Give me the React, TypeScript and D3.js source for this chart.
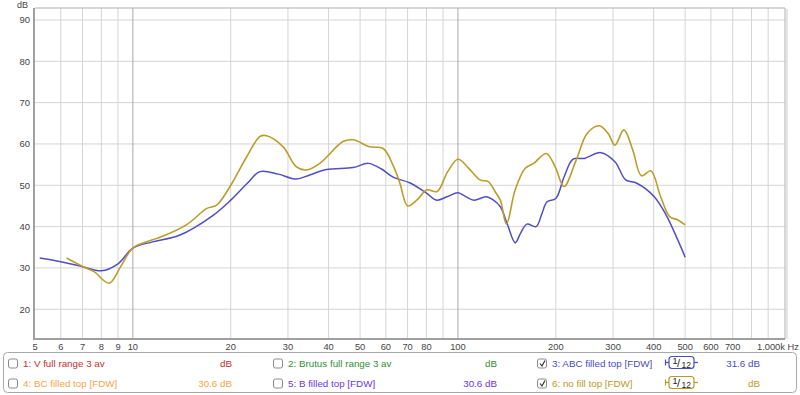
import React from "react";
import * as d3 from "d3";

const blueFreq = [5.17, 6, 7, 8.0, 9, 10, 11.5, 13.9, 17.7, 20, 22.5, 24.6, 28, 31.8, 35, 39.4, 47.6, 53, 58, 63.4, 71, 80, 86, 93, 100, 106, 112, 122, 128, 135, 142, 150, 156, 163, 174, 181, 188, 200, 212, 226, 245, 275, 304, 328, 355, 401, 437, 470, 500];
const blueDb = [32.4, 31.5, 30.3, 29.3, 31.0, 34.8, 36.3, 37.9, 42.8, 46.4, 50.5, 53.3, 52.7, 51.5, 52.5, 53.8, 54.3, 55.3, 54.0, 51.9, 50.6, 48.1, 46.4, 47.3, 48.2, 47.2, 46.4, 47.2, 46.5, 44.8, 40.5, 36.1, 38.5, 40.6, 40.0, 43.0, 46.0, 46.8, 52.0, 56.3, 56.5, 57.9, 55.7, 51.3, 50.5, 47.3, 42.8, 37.5, 32.6];

const goldFreq = [6.25, 7.03, 7.6, 8.45, 9.2, 10, 11.5, 12.4, 14.6, 16.9, 18.1, 19.9, 22.4, 24.6, 25.8, 29.0, 31.8, 34.2, 37.6, 44.3, 47.6, 53.6, 58.9, 63.4, 66.3, 70, 75, 80.2, 86.3, 93, 100, 108, 117, 124, 130, 135, 141, 150, 161, 171, 187, 199, 212, 231, 250, 272, 290, 304, 324, 345, 367, 392, 420, 448, 475, 500];
const goldDb = [32.4, 30.3, 29.1, 26.3, 30.5, 34.8, 36.8, 37.7, 40.4, 44.4, 45.2, 49.7, 56.9, 61.8, 62.0, 59.3, 54.5, 53.7, 55.3, 60.6, 61.0, 59.3, 58.9, 54.5, 50.5, 45.0, 46.5, 48.9, 48.5, 53.3, 56.3, 54.1, 51.3, 50.9, 48.5, 46.4, 40.6, 48.9, 54.1, 55.3, 57.7, 54.5, 49.7, 56.1, 62.6, 64.4, 62.5, 59.7, 63.4, 58.5, 52.3, 53.5, 47.3, 42.4, 41.6, 40.4];

const yTicks = [20, 30, 40, 50, 60, 70, 80, 90];
const xGrid = [6, 7, 8, 9, 10, 20, 30, 40, 50, 60, 70, 80, 90, 100, 200, 300, 400, 500, 600, 700, 800, 900];
const xMajor = [10, 100];
const xLabels = [5, 6, 7, 8, 9, 10, 20, 30, 40, 50, 60, 70, 80, 100, 200, 300, 400, 500, 600, 700];

const legendRow1 = [
  { name: "1: V full range 3 av", value: "dB", color: "#c0302c", checked: false },
  { name: "2: Brutus full range 3 av", value: "dB", color: "#2f8f2f", checked: false },
  { name: "3: ABC filled top [FDW]", value: "31.6 dB", color: "#4a4ac8", checked: true },
];
const legendRow2 = [
  { name: "4: BC filled top [FDW]", value: "30.6 dB", color: "#f5a547", checked: false },
  { name: "5: B filled top [FDW]", value: "30.6 dB", color: "#6a35ec", checked: false },
  { name: "6: no fill top [FDW]", value: "dB", color: "#b89a22", checked: true },
];

const W = 800, H = 395;
const L = 35, R = 785, T = 8, B = 339;
const FONT = "'Liberation Sans', Arial, sans-serif";

export default function App() {
  const x = d3.scaleLog().domain([5, 1014]).range([L, R]);
  const y = d3.scaleLinear().domain([12.8, 92.9]).range([B, T]);
  const line = d3.line<[number, number]>()
    .x((d) => x(d[0]))
    .y((d) => y(d[1]))
    .curve(d3.curveCatmullRom.alpha(0.5));
  const blue = line(blueFreq.map((f, i) => [f, blueDb[i]] as [number, number])) || "";
  const gold = line(goldFreq.map((f, i) => [f, goldDb[i]] as [number, number])) || "";

  const colX = [8, 273, 537];
  const valRight = [232, 497, 760];
  const rowsY = [363.5, 383.5];

  const renderRow = (row: typeof legendRow1, ri: number) =>
    row.map((item, ci) => {
      const cx = colX[ci];
      const cy = rowsY[ri];
      return (
        <g key={`${ri}-${ci}`}>
          <rect x={cx + 0.5} y={cy - 4.5} width={9} height={9} rx={2} fill="#fff" stroke="#8a8a8a" strokeWidth={1} />
          {item.checked && (
            <path d={`M${cx + 3},${cy} L${cx + 5},${cy + 2.5} L${cx + 8},${cy - 3}`} fill="none" stroke="#333" strokeWidth={1.2} />
          )}
          <text x={cx + 15} y={cy + 3.3} fontSize={9.8} fill={item.color} fontFamily={FONT}>{item.name}</text>
          {ci === 2 && (
            <g>
              <line x1={665} x2={669} y1={cy - 1} y2={cy - 1} stroke={item.color} strokeWidth={1.2} />
              <line x1={665.5} x2={665.5} y1={cy - 4} y2={cy + 2} stroke={item.color} strokeWidth={1.2} />
              <rect x={669} y={cy - 7} width={25} height={12} rx={3} fill="#fff" stroke={item.color} strokeWidth={1.2} />
              <line x1={694} x2={698} y1={cy - 1} y2={cy - 1} stroke={item.color} strokeWidth={1.2} />
              <text x={672.5} y={cy + 0.5} fontSize={9} fill="#222" fontFamily={FONT}>1</text>
              <text x={677} y={cy + 3} fontSize={11} fill="#222" fontFamily={FONT}>/</text>
              <text x={681.5} y={cy + 4} fontSize={8.5} fill="#222" fontFamily={FONT}>12</text>
            </g>
          )}
          <text x={valRight[ci]} y={cy + 3.3} fontSize={9.8} fill={item.color} textAnchor="end" fontFamily={FONT}>{item.value}</text>
        </g>
      );
    });

  return (
    <svg width={W} height={H} style={{ position: "absolute", left: 0, top: 0, background: "#fff" }}>
      <rect x={0} y={0} width={W} height={H} fill="#fff" />
      {yTicks.map((t) => (
        <line key={`h${t}`} x1={L} x2={R} y1={y(t)} y2={y(t)} stroke="#d4d4d4" strokeWidth={1} />
      ))}
      {xGrid.map((f) => (
        <line key={`v${f}`} x1={x(f)} x2={x(f)} y1={T} y2={B} stroke={xMajor.includes(f) ? "#a8a8a8" : "#d4d4d4"} strokeWidth={1} />
      ))}
      <line x1={L} x2={R} y1={T} y2={T} stroke="#b0b0b0" strokeWidth={1} />
      <line x1={R} x2={R} y1={T} y2={B} stroke="#b0b0b0" strokeWidth={1} />
      <line x1={R + 2} x2={R + 2} y1={T + 1} y2={B} stroke="#e4e4e4" strokeWidth={2} />
      <line x1={L - 1} x2={L - 1} y1={T} y2={B + 1} stroke="#a0a0a0" strokeWidth={2} />
      <line x1={L - 1} x2={R} y1={B} y2={B} stroke="#a0a0a0" strokeWidth={2} />
      <text x={28} y={7.5} fontSize={9} fill="#444" textAnchor="end" fontFamily={FONT}>dB</text>
      {yTicks.map((t) => (
        <text key={`yl${t}`} x={30} y={y(t) + 3.5} fontSize={9.5} fill="#444" textAnchor="end" fontFamily={FONT}>{t}</text>
      ))}
      {xLabels.map((f) => (
        <text key={`xl${f}`} x={x(f)} y={350} fontSize={9.3} fill="#444" textAnchor="middle" fontFamily={FONT}>{f}</text>
      ))}
      <text x={757} y={350} fontSize={9.3} fill="#444" fontFamily={FONT}>1.000k Hz</text>
      <path d={blue} fill="none" stroke="#4f4fc4" strokeWidth={1.5} />
      <path d={gold} fill="none" stroke="#bb9d2a" strokeWidth={1.6} />
      <rect x={3.5} y={352.5} width={793} height={40} rx={4} fill="#fff" stroke="#a8a8a8" strokeWidth={1} />
      {renderRow(legendRow1, 0)}
      {renderRow(legendRow2, 1)}
    </svg>
  );
}
